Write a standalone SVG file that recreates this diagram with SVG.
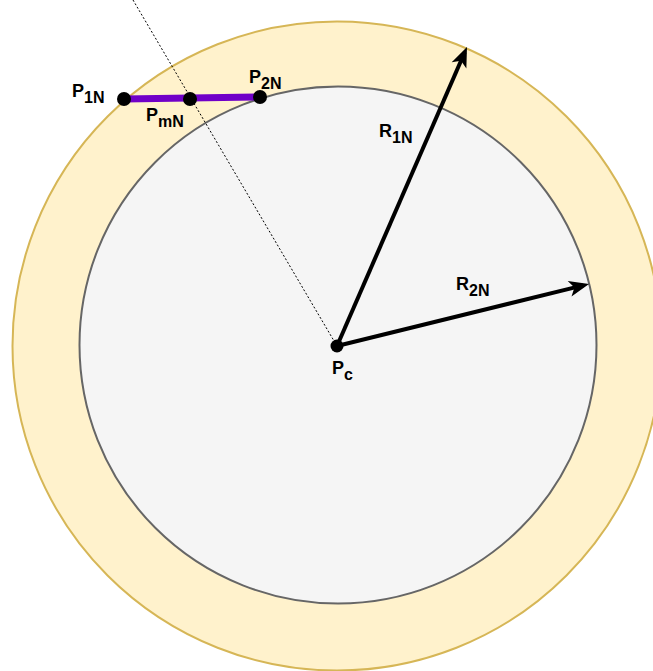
<svg xmlns="http://www.w3.org/2000/svg" width="653" height="671" viewBox="0 0 653 671">
<style>
.lbl{font-family:"Liberation Sans",Arial,sans-serif;font-weight:bold;font-size:18px;fill:#000}
.sub{font-size:16px}
.dot{fill:#000}
.arrow{stroke:#000;stroke-width:4;fill:none}
</style>
<defs>
<marker id="ah" markerUnits="userSpaceOnUse" markerWidth="22" markerHeight="18" refX="14" refY="8" orient="auto" overflow="visible">
<path d="M0,0 L20,8 L0,16 L5,8 Z" fill="#000"/>
</marker>
</defs>
<rect width="653" height="671" fill="#fff"/>
<g id="outer-ring">
<circle cx="337" cy="346" r="324.5" fill="#FFF2CC" stroke="#D6B656" stroke-width="2"/>
</g>
<g id="inner-circle">
<circle cx="338" cy="345" r="258.5" fill="#F5F5F5" stroke="#666666" stroke-width="2"/>
</g>
<g id="connectors">
<line x1="133" y1="0" x2="337" y2="346" stroke="#000" stroke-width="1" stroke-dasharray="2 2"/>
<line x1="124" y1="99" x2="260" y2="97" stroke="#7000C8" stroke-width="7"/>
<line class="arrow" x1="337" y1="346" x2="464.6" y2="52.5" marker-end="url(#ah)"/>
<line class="arrow" x1="337" y1="346" x2="583.2" y2="285.4" marker-end="url(#ah)"/>
</g>
<g id="P1N">
<circle class="dot" cx="124" cy="99" r="7"/>
<text class="lbl" x="72" y="97">P<tspan class="sub" dy="6">1N</tspan></text>
</g>
<g id="PmN">
<circle class="dot" cx="190" cy="99" r="7"/>
<text class="lbl" x="146" y="121">P<tspan class="sub" dy="6">mN</tspan></text>
</g>
<g id="P2N">
<circle class="dot" cx="260" cy="97" r="7"/>
<text class="lbl" x="249" y="83">P<tspan class="sub" dy="6">2N</tspan></text>
</g>
<g id="Pc">
<circle class="dot" cx="337" cy="346" r="6.5"/>
<text class="lbl" x="332" y="374">P<tspan class="sub" dy="6">c</tspan></text>
</g>
<g id="R1N">
<text class="lbl" x="379" y="137">R<tspan class="sub" dy="6">1N</tspan></text>
</g>
<g id="R2N">
<text class="lbl" x="456" y="290">R<tspan class="sub" dy="6">2N</tspan></text>
</g>
</svg>
